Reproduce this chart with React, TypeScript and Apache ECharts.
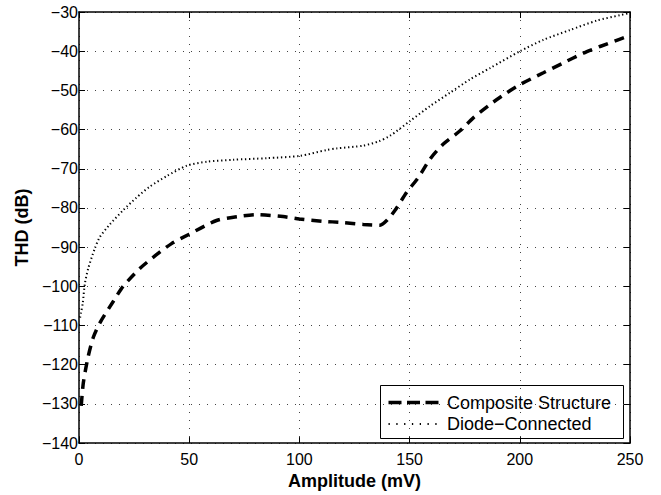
import React, { useEffect, useRef } from "react";
import * as echarts from "echarts";

const compositeX = [1, 2, 4.2, 6.5, 9.5, 15.6, 20, 27.7, 35, 42, 50, 62.4, 72, 80.6, 92.6, 100, 110.7, 119.2, 129, 136.6, 140, 143.4, 148.7, 154, 159.3, 165.3, 172.9, 178.9, 186.5, 193.3, 200.1, 210.7, 219.7, 228.8, 236.4, 245.5, 250];
const compositeY = [-130.5, -124.5, -117.8, -113, -109.3, -103.8, -100, -95.4, -92, -89.1, -86.7, -83.2, -82.2, -81.7, -82.2, -82.8, -83.4, -83.7, -84.2, -84.4, -83, -80.6, -76, -72.2, -67.5, -63.7, -60.3, -57, -53.6, -50.9, -48.5, -45.5, -43, -40.5, -38.8, -36.9, -36];

const diodeX = [0.5, 0.9, 1.7, 2.7, 4.2, 7.2, 9.5, 14, 20, 26, 32, 40, 49, 58, 70, 85.2, 100.3, 112.4, 116.9, 129, 136, 141.1, 150.2, 159.3, 168.3, 177.4, 186.5, 200.1, 210.7, 222.8, 234.9, 245.5, 250];
const diodeY = [-108, -106.8, -104.3, -99.2, -95.4, -90.3, -87.4, -84.2, -80.6, -77.4, -74.6, -71.8, -69.2, -68.2, -67.7, -67.3, -66.7, -65.2, -64.8, -64.1, -63, -61.6, -57.8, -54, -50.6, -47.2, -44.3, -40, -37.1, -34.6, -32.2, -30.8, -30.2];

const seriesNames = ["Composite Structure", "Diode\u2212Connected"];
const xTitle = "Amplitude (mV)";
const yTitle = "THD (dB)";

const FONT = "'Liberation Sans', Arial, Helvetica, sans-serif";

export default function App() {
  const ref = useRef<HTMLDivElement>(null);
  useEffect(() => {
    if (!ref.current) return;
    const chart = echarts.init(ref.current, undefined, { renderer: "svg" });
    const fmt = (v: number) => (v < 0 ? "\u2212" + Math.abs(v) : String(v));
    const gridLine = { show: true, lineStyle: { color: "#444", width: 1, type: [1, 7] as any } };
    const axisBase = {
      axisLine: { show: true, onZero: false, lineStyle: { color: "#000", width: 1.5 } },
      axisTick: { show: true, inside: true, length: 6, lineStyle: { color: "#000", width: 1 } },
    };
    const dashStyle = { color: "#000", width: 3.5, type: [10, 7] as any };
    const dotStyle = { color: "#000", width: 2, type: [1.3, 2.7] as any };
    chart.setOption({
      animation: false,
      backgroundColor: "#fff",
      textStyle: { fontFamily: FONT },
      grid: { left: 79, right: 31, top: 12, bottom: 49, containLabel: false },
      graphic: [
        {
          type: "group",
          left: 380,
          top: 385,
          z: 100,
          children: [
            { type: "rect", shape: { x: 0, y: 0, width: 243, height: 53 }, style: { fill: "#fff", stroke: "#000", lineWidth: 1 } },
            { type: "line", shape: { x1: 8, y1: 17, x2: 58, y2: 17 }, style: { stroke: "#000", lineWidth: 3.5, lineDash: [13, 5.5] } },
            { type: "text", x: 66.5, y: 17, style: { text: seriesNames[0], font: `18px ${FONT}`, fill: "#000", verticalAlign: "middle", align: "left" } },
            { type: "line", shape: { x1: 8, y1: 38.5, x2: 58, y2: 38.5 }, style: { stroke: "#000", lineWidth: 1.8, lineDash: [1.3, 6.5] } },
            { type: "text", x: 66.5, y: 38.5, style: { text: seriesNames[1], font: `18px ${FONT}`, fill: "#000", verticalAlign: "middle", align: "left" } },
          ],
        },
      ],
      xAxis: [
        {
          type: "value", position: "bottom", min: 0, max: 250, interval: 50,
          ...axisBase,
          axisLabel: { color: "#000", fontSize: 16, fontFamily: FONT, margin: 8 },
          splitLine: gridLine,
          name: xTitle, nameLocation: "middle", nameGap: 24,
          nameTextStyle: { fontSize: 18, fontWeight: "bold", color: "#000", fontFamily: FONT },
        },
        {
          type: "value", position: "top", min: 0, max: 250, interval: 50,
          ...axisBase,
          axisLabel: { show: false },
          splitLine: { show: false },
        },
      ],
      yAxis: [
        {
          type: "value", position: "left", min: -140, max: -30, interval: 10,
          ...axisBase,
          axisLabel: { color: "#000", fontSize: 16, fontFamily: FONT, margin: 1, formatter: fmt },
          splitLine: gridLine,
          name: yTitle, nameLocation: "middle", nameGap: 47,
          nameTextStyle: { fontSize: 18, fontWeight: "bold", color: "#000", fontFamily: FONT },
        },
        {
          type: "value", position: "right", min: -140, max: -30, interval: 10,
          ...axisBase,
          axisLabel: { show: false },
          splitLine: { show: false },
        },
      ],
      series: [
        {
          name: seriesNames[0],
          type: "line",
          data: compositeX.map((x, i) => [x, compositeY[i]]),
          showSymbol: false,
          symbol: "none",
          smooth: 0.25,
          lineStyle: dashStyle,
        },
        {
          name: seriesNames[1],
          type: "line",
          data: diodeX.map((x, i) => [x, diodeY[i]]),
          showSymbol: false,
          symbol: "none",
          smooth: 0.25,
          lineStyle: dotStyle,
        },
      ],
    });
    return () => chart.dispose();
  }, []);
  return (
    <div
      ref={ref}
      style={{ position: "fixed", left: 0, top: 0, width: 661, height: 495, background: "#fff" }}
    />
  );
}
